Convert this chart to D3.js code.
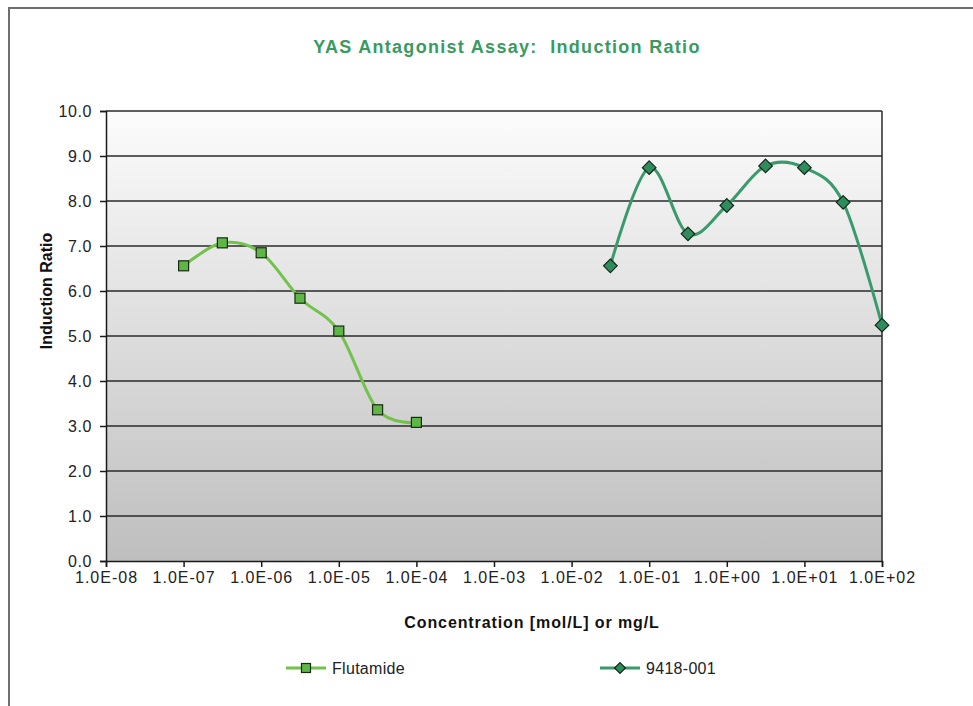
<!DOCTYPE html>
<html>
<head>
<meta charset="utf-8">
<script src="https://cdn.jsdelivr.net/npm/d3@7"></script>
<style>
  html, body { margin: 0; padding: 0; background: #fff; }
  svg { display: block; font-family: "Liberation Sans", Arial, sans-serif; }
</style>
</head>
<body>
<svg id="chart" width="973" height="706"></svg>
<script>
// Concentrations (log scale) and induction ratios per series
const flutamideConc = [1e-7, 3.16e-7, 1e-6, 3.16e-6, 1e-5, 3.16e-5, 1e-4];
const flutamideRatio = [6.56, 7.07, 6.85, 5.84, 5.11, 3.36, 3.08];
const sampleConc = [0.0316, 0.1, 0.316, 1, 3.16, 10, 31.6, 100];
const sampleRatio = [6.56, 8.74, 7.27, 7.90, 8.78, 8.74, 7.97, 5.24];
const xTickValues = [1e-8, 1e-7, 1e-6, 1e-5, 1e-4, 1e-3, 1e-2, 1e-1, 1e0, 1e1, 1e2];
const xTickLabels = ["1.0E-08", "1.0E-07", "1.0E-06", "1.0E-05", "1.0E-04", "1.0E-03",
                     "1.0E-02", "1.0E-01", "1.0E+00", "1.0E+01", "1.0E+02"];
const yTickValues = [0, 1, 2, 3, 4, 5, 6, 7, 8, 9, 10];
const seriesNames = ["Flutamide", "9418-001"];

const svg = d3.select("#chart");
const plotLeft = 106, plotRight = 882, plotTop = 111, plotBottom = 561;

const x = d3.scaleLog().domain([1e-8, 1e2]).range([plotLeft, plotRight]);
const y = d3.scaleLinear().domain([0, 10]).range([plotBottom, plotTop]);

// Outer chart frame (left and top edges)
svg.append("path")
  .attr("d", "M9,706 L9,8 L973,8")
  .attr("fill", "none").attr("stroke", "#6e6e6e").attr("stroke-width", 2);

// Plot area gradient
const defs = svg.append("defs");
const grad = defs.append("linearGradient").attr("id", "plotBg")
  .attr("x1", 0).attr("y1", 0).attr("x2", 0).attr("y2", 1);
grad.append("stop").attr("offset", "0%").attr("stop-color", "#fcfcfc");
grad.append("stop").attr("offset", "100%").attr("stop-color", "#bebebe");

svg.append("rect")
  .attr("x", plotLeft).attr("y", plotTop)
  .attr("width", plotRight - plotLeft).attr("height", plotBottom - plotTop)
  .attr("fill", "url(#plotBg)");

// Horizontal gridlines
svg.append("g").selectAll("line").data(yTickValues.filter(d => d > 0)).join("line")
  .attr("x1", plotLeft).attr("x2", plotRight)
  .attr("y1", d => y(d)).attr("y2", d => y(d))
  .attr("stroke", "#2a2a2a").attr("stroke-width", 1.5);

// Right border of plot area
svg.append("line")
  .attr("x1", plotRight).attr("x2", plotRight).attr("y1", plotTop).attr("y2", plotBottom)
  .attr("stroke", "#2a2a2a").attr("stroke-width", 1.5);

// Y axis
const yAxis = svg.append("g").attr("transform", `translate(${plotLeft},0)`)
  .call(d3.axisLeft(y).tickValues(yTickValues).tickFormat(d3.format(".1f")).tickSize(6).tickPadding(8));
yAxis.select(".domain").attr("stroke", "#1a1a1a").attr("stroke-width", 1.5);
yAxis.selectAll(".tick line").attr("stroke", "#1a1a1a").attr("stroke-width", 1.5);
yAxis.selectAll("text").attr("font-size", 16).attr("fill", "#222").attr("letter-spacing", 0.6)
  .attr("font-family", "'Liberation Sans', Arial, sans-serif");

// X axis
const xAxis = svg.append("g").attr("transform", `translate(0,${plotBottom})`)
  .call(d3.axisBottom(x).tickValues(xTickValues)
    .tickFormat((d, i) => xTickLabels[i]).tickSize(6).tickPadding(5));
xAxis.select(".domain").attr("stroke", "#1a1a1a").attr("stroke-width", 1.5);
xAxis.selectAll(".tick line").attr("stroke", "#1a1a1a").attr("stroke-width", 1.5);
xAxis.selectAll("text").attr("font-size", 16).attr("fill", "#222").attr("letter-spacing", 1)
  .attr("font-family", "'Liberation Sans', Arial, sans-serif");

// Title and axis titles
svg.append("text").attr("x", 507).attr("y", 53).attr("text-anchor", "middle")
  .attr("font-size", 18).attr("font-weight", "bold").attr("fill", "#3a9a60")
  .attr("letter-spacing", 1.3).style("white-space", "pre")
  .text("YAS Antagonist Assay:  Induction Ratio");

svg.append("text").attr("transform", "translate(52,291) rotate(-90)")
  .attr("text-anchor", "middle").attr("font-size", 16).attr("font-weight", "bold").attr("fill", "#111")
  .text("Induction Ratio");

svg.append("text").attr("x", 532).attr("y", 628).attr("text-anchor", "middle")
  .attr("font-size", 16).attr("font-weight", "bold").attr("fill", "#111").attr("letter-spacing", 0.9)
  .text("Concentration [mol/L] or mg/L");

// Series
const series = [
  { name: seriesNames[0], xs: flutamideConc, ys: flutamideRatio, line: "#72c24c", fill: "#5db646", shape: "square" },
  { name: seriesNames[1], xs: sampleConc, ys: sampleRatio, line: "#3b9a6c", fill: "#2f8c5c", shape: "diamond" }
];

const lineGen = d3.line().x(d => x(d[0])).y(d => y(d[1])).curve(d3.curveCardinal.tension(0));

function marker(g, shape, cx, cy, fill, size) {
  if (shape === "square") {
    g.append("rect").attr("x", cx - size / 2).attr("y", cy - size / 2)
      .attr("width", size).attr("height", size)
      .attr("fill", fill).attr("stroke", "#1b2a12").attr("stroke-width", 1.2);
  } else {
    const r = size * 0.68;
    g.append("path").attr("d", `M${cx},${cy - r}L${cx + r},${cy}L${cx},${cy + r}L${cx - r},${cy}Z`)
      .attr("fill", fill).attr("stroke", "#13261a").attr("stroke-width", 1.2);
  }
}

series.forEach(s => {
  const pts = s.xs.map((v, i) => [v, s.ys[i]]);
  svg.append("path").datum(pts).attr("d", lineGen)
    .attr("fill", "none").attr("stroke", s.line).attr("stroke-width", 3);
  const g = svg.append("g");
  pts.forEach(p => marker(g, s.shape, x(p[0]), y(p[1]), s.fill, 10));
});

// Legend
const legendPos = [{ x: 286, y: 668 }, { x: 600, y: 668 }];
series.forEach((s, i) => {
  const lp = legendPos[i];
  const g = svg.append("g");
  g.append("line").attr("x1", lp.x).attr("x2", lp.x + 40).attr("y1", lp.y).attr("y2", lp.y)
    .attr("stroke", s.line).attr("stroke-width", 3);
  marker(g, s.shape, lp.x + 20, lp.y, s.fill, s.shape === "square" ? 9 : 8);
  g.append("text").attr("x", lp.x + 46).attr("y", lp.y + 6)
    .attr("font-size", 16).attr("fill", "#222").attr("letter-spacing", 0.3).text(s.name);
});
</script>
</body>
</html>
